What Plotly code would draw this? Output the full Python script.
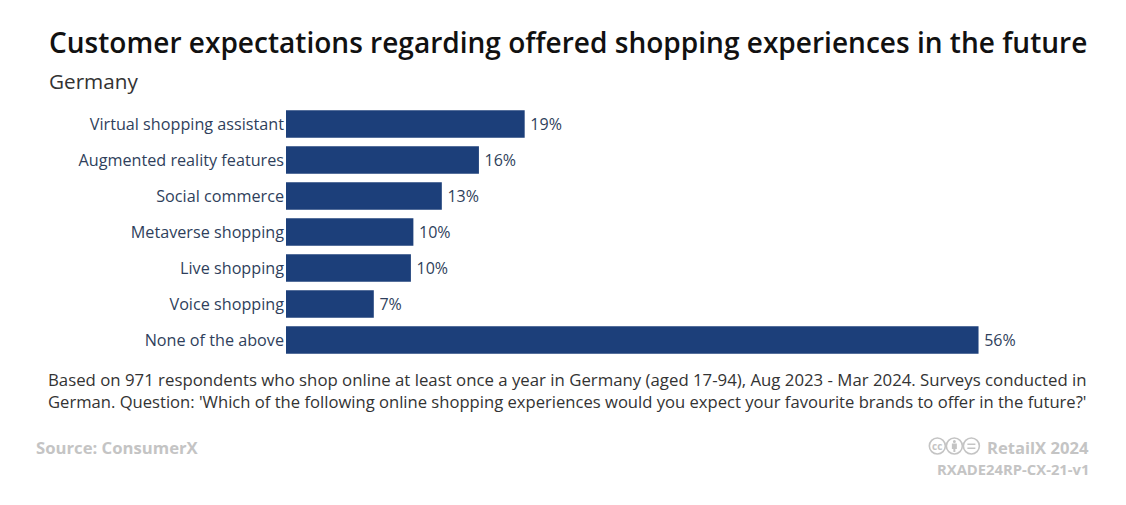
import plotly.graph_objects as go

categories = ["Virtual shopping assistant", "Augmented reality features", "Social commerce",
              "Metaverse shopping", "Live shopping", "Voice shopping", "None of the above"]
values = [19.3, 15.6, 12.6, 10.3, 10.1, 7.1, 56.0]
W, H = 1126, 505
L, R, T, B = 286, 98.4, 106, 147
FONT = "Open Sans"
NAVY = "#1c3f7a"
TEXT = "#2f3f5c"
GREY = "#c4c4c4"

def px(x): return (x - L) / (W - L - R)
def py(y): return 1 - (y - T) / (H - T - B)

def note(x, y, text, size, color="#222222", anchor="left", weight=400):
    return dict(x=px(x), y=py(y), xref="paper", yref="paper", text=text, showarrow=False,
                xanchor=anchor, yanchor="middle", align=anchor,
                font=dict(family=FONT, size=size, color=color, weight=weight))

fig = go.Figure(go.Bar(
    x=values, y=categories, orientation="h",
    marker=dict(color=NAVY, line=dict(width=0)),
    texttemplate="\u2009%{x:.0f}%", textposition="outside", cliponaxis=False,
    textfont=dict(family=FONT, size=16, color=TEXT),
    hoverinfo="skip",
))

annotations = [
    note(47, 42, "Customer expectations regarding offered shopping experiences in the future", 28.05, "#111111", weight=600),
    note(47, 81, "Germany", 20.7, "#333333"),
    note(46, 379.5, "Based on 971 respondents who shop online at least once a year in Germany (aged 17-94), Aug 2023 - Mar 2024. Surveys conducted in", 16.8, "#333333"),
    note(46, 401.5, "German. Question: 'Which of the following online shopping experiences would you expect your favourite brands to offer in the future?'", 16.62, "#333333"),
    note(34, 447, "Source: ConsumerX", 16.7, GREY, weight=700),
    note(1091, 447, "RetailX 2024", 16.6, GREY, "right", weight=700),
    note(1091, 469, "RXADE24RP-CX-21-v1", 14.8, GREY, "right", weight=700),
    note(937, 445.5, "cc", 10, GREY, "center", weight=700),
]

def paper_shape(kind, x0, y0, x1, y1, **kw):
    return dict(type=kind, xref="paper", yref="paper", x0=px(x0), x1=px(x1), y0=py(y1), y1=py(y0), **kw)

shapes = []
for cx in (937, 954, 971):
    shapes.append(paper_shape("circle", cx - 8, 438, cx + 8, 454, line=dict(color=GREY, width=1.6)))
# person glyph
shapes.append(paper_shape("circle", 952.5, 440, 955.5, 443, fillcolor=GREY, line=dict(width=0)))
shapes.append(paper_shape("rect", 951.5, 443.5, 956.5, 449, fillcolor=GREY, line=dict(width=0)))
shapes.append(paper_shape("rect", 953, 449, 955, 452, fillcolor=GREY, line=dict(width=0)))
# equals glyph
shapes.append(paper_shape("rect", 967, 443.5, 975, 445, fillcolor=GREY, line=dict(width=0)))
shapes.append(paper_shape("rect", 967, 447.5, 975, 449, fillcolor=GREY, line=dict(width=0)))

fig.update_layout(
    width=W, height=H, autosize=False,
    paper_bgcolor="white", plot_bgcolor="white", showlegend=False,
    margin=dict(l=L, r=R, t=T, b=B, pad=0),
    bargap=0.23,
    font=dict(family=FONT),
    xaxis=dict(range=[0, 60], visible=False, fixedrange=True),
    yaxis=dict(autorange="reversed", showgrid=False, showline=False, zeroline=False,
               ticks="", ticklen=0, fixedrange=True, ticklabelstandoff=1,
               tickfont=dict(family=FONT, size=16.2, color=TEXT)),
    annotations=annotations, shapes=shapes,
)
fig.write_html("out.html", config=dict(displayModeBar=False),
               post_script="document.body.style.margin='0';document.body.style.overflow='hidden';")
